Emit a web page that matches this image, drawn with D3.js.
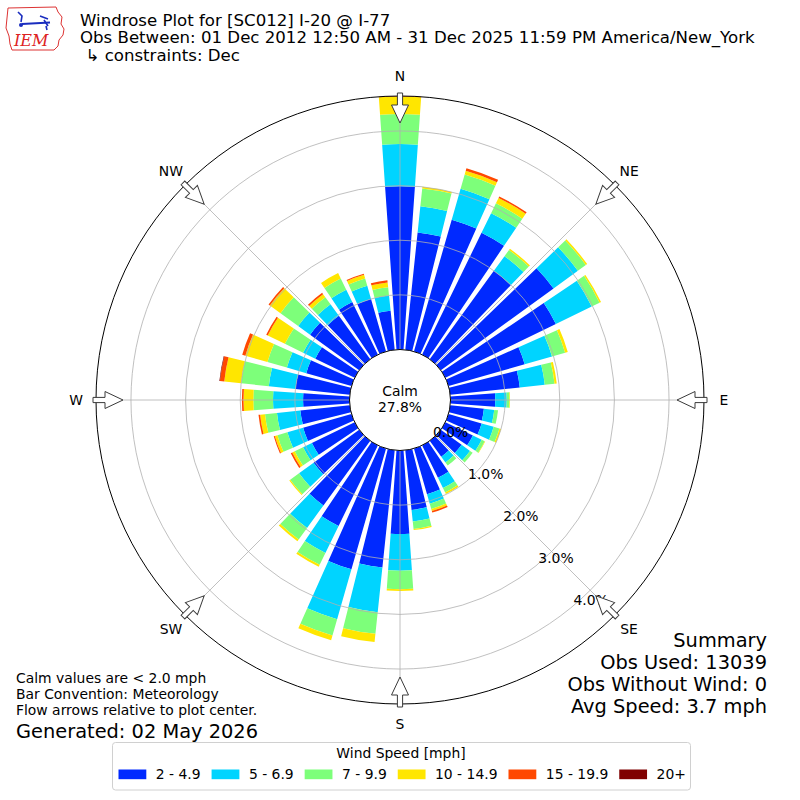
<!DOCTYPE html>
<html><head><meta charset="utf-8">
<script src="https://cdn.jsdelivr.net/npm/d3@7"></script>
<style>
body{margin:0;background:#fff}
svg{display:block}
text{font-family:"DejaVu Sans",sans-serif;fill:#000}
</style>
</head><body>
<svg id="chart" width="800" height="800"></svg>
<script>
// ---------------- data ----------------
const directions = [0,10,20,30,40,50,60,70,80,90,100,110,120,130,140,150,160,170,
                    180,190,200,210,220,230,240,250,260,270,280,290,300,310,320,330,340,350];
const speedBins = ["2 - 4.9","5 - 6.9","7 - 9.9","10 - 14.9","15 - 19.9","20+"];
const binColors = ["#0029ff","#00d4ff","#7dff7a","#ffe600","#ff4800","#800000"];
// percent of observations per direction, per speed bin
const bin2to5   = [2.99,2.16,2.51,2.48,2.00,2.55,2.25,1.45,1.28,0.82,0.62,0.63,0.56,0.47,0.36,0.66,0.87,1.10,
                   1.53,2.16,2.30,1.64,1.46,1.03,0.87,0.92,0.91,0.85,1.00,0.86,0.80,1.11,0.98,1.07,1.00,0.72];
const bin5to7   = [0.77,0.48,0.59,0.40,0.33,0.55,0.73,0.52,0.46,0.21,0.19,0.23,0.18,0.19,0.13,0.21,0.18,0.21,
                   0.67,0.82,0.95,0.55,0.51,0.33,0.18,0.30,0.43,0.55,0.49,0.37,0.25,0.27,0.26,0.25,0.25,0.28];
const bin7to10  = [0.55,0.33,0.27,0.20,0.14,0.18,0.16,0.25,0.18,0.05,0.07,0.11,0.06,0.06,0.07,0.09,0.10,0.14,
                   0.34,0.40,0.31,0.24,0.26,0.20,0.17,0.19,0.22,0.36,0.51,0.37,0.37,0.40,0.16,0.23,0.14,0.15];
const bin10to15 = [0.32,0.03,0.07,0.11,0.03,0.03,0.03,0.05,0.04,0.01,0.00,0.03,0.01,0.00,0.00,0.03,0.04,0.02,
                   0.03,0.15,0.09,0.04,0.04,0.02,0.05,0.05,0.09,0.18,0.31,0.42,0.35,0.24,0.07,0.11,0.07,0.09];
const bin15to20 = [0.01,0.00,0.05,0.03,0.00,0.00,0.00,0.00,0.00,0.00,0.00,0.00,0.00,0.00,0.00,0.00,0.03,0.00,
                   0.00,0.00,0.00,0.00,0.00,0.00,0.03,0.02,0.03,0.03,0.08,0.06,0.03,0.03,0.03,0.00,0.02,0.04];
const bin20plus = [0,0,0,0,0,0,0,0,0,0,0,0,0,0,0,0,0,0,
                   0,0,0,0,0,0,0,0,0,0,0.01,0,0,0,0,0,0,0];
const calmPct = 27.8;
const radialTicks = [0,1,2,3,4];
const compassLabels = ["N","NE","E","SE","S","SW","W","NW"];
const compassAngles = [0,45,90,135,180,225,270,315];

const titleLines = ["Windrose Plot for [SC012] I-20 @ I-77",
  "Obs Between: 01 Dec 2012 12:50 AM - 31 Dec 2025 11:59 PM America/New_York",
  "\u21B3 constraints: Dec"];
const noteLines = ["Calm values are < 2.0 mph","Bar Convention: Meteorology","Flow arrows relative to plot center."];
const generatedText = "Generated: 02 May 2026";
const summaryLines = ["Summary","Obs Used: 13039","Obs Without Wind: 0","Avg Speed: 3.7 mph"];
const legendTitle = "Wind Speed [mph]";

// ---------------- setup ----------------
const svg = d3.select("#chart");
const cx = 400, cy = 400;
const calmR = 50.5, outerR = 304;
const binArrays = [bin2to5,bin5to7,bin7to10,bin10to15,bin15to20,bin20plus];
const keys = speedBins.map((_,i)=>"k"+i);
const table = directions.map((d,i)=>{
  const o = {dir:d};
  keys.forEach((k,j)=>o[k]=binArrays[j][i]);
  return o;
});
const stack = d3.stack().keys(keys)(table);
const maxTotal = d3.max(table, d=>d3.sum(keys, k=>d[k]));
const r = d3.scaleLinear().domain([0, maxTotal]).range([calmR, outerR]);
const color = d3.scaleOrdinal().domain(keys).range(binColors);
const ang = d3.scaleLinear().domain([0,360]).range([0, 2*Math.PI]);
const halfW = ang(8)/2;

const g = svg.append("g").attr("transform",`translate(${cx},${cy})`);

// bars
const arc = d3.arc();
stack.forEach(layer=>{
  g.append("g").selectAll("path")
    .data(layer.filter(s=>s[1]-s[0]>0))
    .join("path")
    .attr("fill", color(layer.key))
    .attr("d", s=>arc({innerRadius:r(s[0]), outerRadius:r(s[1]),
        startAngle: ang(s.data.dir)-halfW, endAngle: ang(s.data.dir)+halfW}));
});

// grid circles
g.append("g").selectAll("circle").data(radialTicks.filter(t=>t>0)).join("circle")
  .attr("r", d=>r(d)).attr("fill","none").attr("stroke","#b0b0b0").attr("stroke-width",0.8);
// radial grid lines
g.append("g").selectAll("line").data(compassAngles).join("line")
  .attr("x1", a=>Math.sin(ang(a))*calmR).attr("y1", a=>-Math.cos(ang(a))*calmR)
  .attr("x2", a=>Math.sin(ang(a))*outerR).attr("y2", a=>-Math.cos(ang(a))*outerR)
  .attr("stroke","#b0b0b0").attr("stroke-width",0.8);

// calm circle
g.append("circle").attr("r", calmR).attr("fill","#fff").attr("stroke","#000").attr("stroke-width",1);
g.append("text").attr("text-anchor","middle").attr("y",-4).style("font-size","13.9px").text("Calm");
g.append("text").attr("text-anchor","middle").attr("y",12).style("font-size","13.9px").text(calmPct.toFixed(1)+"%");

// outer circle
g.append("circle").attr("r", outerR).attr("fill","none").attr("stroke","#000").attr("stroke-width",1);

// radial labels at 140 deg
const labA = ang(140);
g.append("g").selectAll("text").data(radialTicks).join("text")
  .attr("x", t=>Math.sin(labA)*r(t)+0.5)
  .attr("y", t=>-Math.cos(labA)*r(t)-1.5)
  .style("font-size","13.9px")
  .text(t=>t.toFixed(1)+"%");

// flow arrows
const arrowPts = [[-2.6,-307],[2.6,-307],[2.6,-295],[8.5,-295],[0,-277],[-8.5,-295],[-2.6,-295]];
g.append("g").selectAll("polygon").data(compassAngles).join("polygon")
  .attr("points", arrowPts.map(p=>p.join(",")).join(" "))
  .attr("transform", a=>`rotate(${a})`)
  .attr("fill","#fff").attr("stroke","#3a3a3a").attr("stroke-width",1);

// compass labels
g.append("g").selectAll("text").data(compassLabels).join("text")
  .attr("x",(d,i)=>Math.sin(ang(compassAngles[i]))*324)
  .attr("y",(d,i)=>-Math.cos(ang(compassAngles[i]))*324+5)
  .attr("text-anchor","middle").style("font-size","13.9px").text(d=>d);

// titles
svg.append("g").selectAll("text").data(titleLines).join("text")
  .attr("x",(d,i)=>i===2?85.5:80).attr("y",(d,i)=>25.5+i*17.8)
  .style("font-size","16.6px").text(d=>d);

// notes
svg.append("g").selectAll("text").data(noteLines).join("text")
  .attr("x",16).attr("y",(d,i)=>683+i*16.2).style("font-size","13.9px").text(d=>d);
svg.append("text").attr("x",16).attr("y",738).style("font-size","19.4px").text(generatedText);

// summary
svg.append("g").selectAll("text").data(summaryLines).join("text")
  .attr("x",767).attr("y",(d,i)=>647+i*22).attr("text-anchor","end")
  .style("font-size","19.4px").text(d=>d);

// legend
const lg = svg.append("g");
lg.append("rect").attr("x",112.5).attr("y",742.5).attr("width",578).attr("height",47.5)
  .attr("rx",3).attr("fill","#fff").attr("stroke","#d0d0d0").attr("stroke-width",1);
lg.append("text").attr("x",401).attr("y",757.5).attr("text-anchor","middle").style("font-size","13.9px").text(legendTitle);
let lx = 118.5;
speedBins.forEach((s,i)=>{
  lg.append("rect").attr("x",lx).attr("y",769.5).attr("width",27.8).attr("height",9.7).attr("fill",binColors[i]);
  const t = lg.append("text").attr("x",lx+37.3).attr("y",779).style("font-size","13.9px").text(s);
  lx += 37.3 + t.node().getComputedTextLength() + 11;
});

// IEM logo
const logo = svg.append("g");
logo.append("path").attr("d","M8,8 L56,7 L58,12 L62,17 L61,24 L64,29 L63,35 L59,40 L58,46 L54,50 L12,50 L10,44 L9,36 L6,28 L7,18 Z")
  .attr("fill","#fff").attr("stroke","#d33").attr("stroke-width",1);
logo.append("line").attr("x1",22).attr("y1",24).attr("x2",50).attr("y2",22.5).attr("stroke","#1a2dbf").attr("stroke-width",2);
logo.append("path").attr("d","M18,12 L22,16 L21,22 M40,16 L48,19 M44,20 L48,26 M46,26 L47,30")
  .attr("fill","none").attr("stroke","#1a2dbf").attr("stroke-width",1.6);
logo.append("circle").attr("cx",21).attr("cy",25).attr("r",2).attr("fill","#1a2dbf");
logo.append("text").attr("x",14).attr("y",46).style("font-family","'DejaVu Serif',serif")
  .style("font-style","italic").style("font-size","16px").style("fill","#d22").text("IEM");
</script>
</body></html>
